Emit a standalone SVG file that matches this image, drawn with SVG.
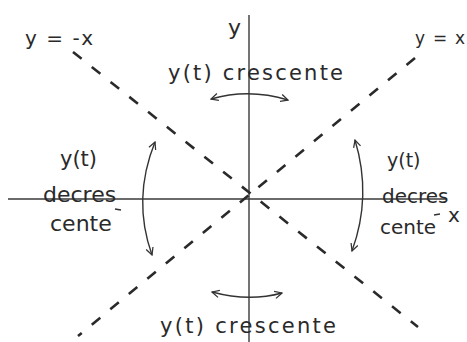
<svg xmlns="http://www.w3.org/2000/svg" width="467" height="342" viewBox="0 0 467 342">
<defs>
<style>
.ax{stroke:#3a3a3a;stroke-width:1.4;fill:none}
.dash{stroke:#2a2a2a;stroke-width:2.6;fill:none;stroke-dasharray:11 13}
.arc{stroke:#333;stroke-width:1.4;fill:none}
.t{font-family:"DejaVu Sans","Liberation Sans",sans-serif;fill:#2a2a2a}
</style>
<marker id="ah" viewBox="0 0 10 10" refX="9" refY="5" markerWidth="9" markerHeight="9" orient="auto-start-reverse" markerUnits="userSpaceOnUse">
<path d="M1,1 L9,5 L1,9" fill="none" stroke="#333" stroke-width="1.4"/>
</marker>
</defs>
<rect width="467" height="342" fill="#fff"/>
<g id="axes">
<line class="ax" x1="249" y1="15" x2="249" y2="342"/>
<line class="ax" x1="8" y1="199" x2="447" y2="199"/>
<text class="t" x="228" y="35" font-size="22">y</text>
<text class="t" x="448" y="222" font-size="20">x</text>
</g>
<g id="connectors">
<line class="dash" x1="73" y1="52" x2="418" y2="327"/>
<line class="dash" x1="415" y1="58" x2="78" y2="336"/>
<path class="arc" d="M211,99 Q249,88 288,100" marker-start="url(#ah)" marker-end="url(#ah)"/>
<path class="arc" d="M212,292 Q249,302 282,293" marker-start="url(#ah)" marker-end="url(#ah)"/>
<path class="arc" d="M155,142 Q132,199 152,255" marker-start="url(#ah)" marker-end="url(#ah)"/>
<path class="arc" d="M355,140 Q372,196 352,251" marker-start="url(#ah)" marker-end="url(#ah)"/>
</g>
<g id="label-yneg">
<text class="t" x="25" y="45" font-size="20" textLength="68" lengthAdjust="spacing">y = -x</text>
</g>
<g id="label-ypos">
<text class="t" x="415" y="44" font-size="17" textLength="50" lengthAdjust="spacing">y = x</text>
</g>
<g id="top-text">
<text class="t" x="168" y="80" font-size="21" textLength="175" lengthAdjust="spacing">y(t) crescente</text>
</g>
<g id="bottom-text">
<text class="t" x="160" y="333" font-size="21" textLength="176" lengthAdjust="spacing">y(t) crescente</text>
</g>
<g id="left-text">
<text class="t" x="60" y="166" font-size="21">y(t)</text>
<text class="t" x="43" y="202" font-size="22">decres</text>
<text class="t" x="50" y="231" font-size="22">cente</text>
<line class="arc" x1="115" y1="209" x2="121" y2="210" stroke-width="2"/>
</g>
<g id="right-text">
<text class="t" x="387" y="167" font-size="19">y(t)</text>
<text class="t" x="382" y="203" font-size="20">decres</text>
<text class="t" x="380" y="234" font-size="20">cente</text>
<line class="arc" x1="434" y1="215" x2="440" y2="214" stroke-width="2"/>
</g>
</svg>
